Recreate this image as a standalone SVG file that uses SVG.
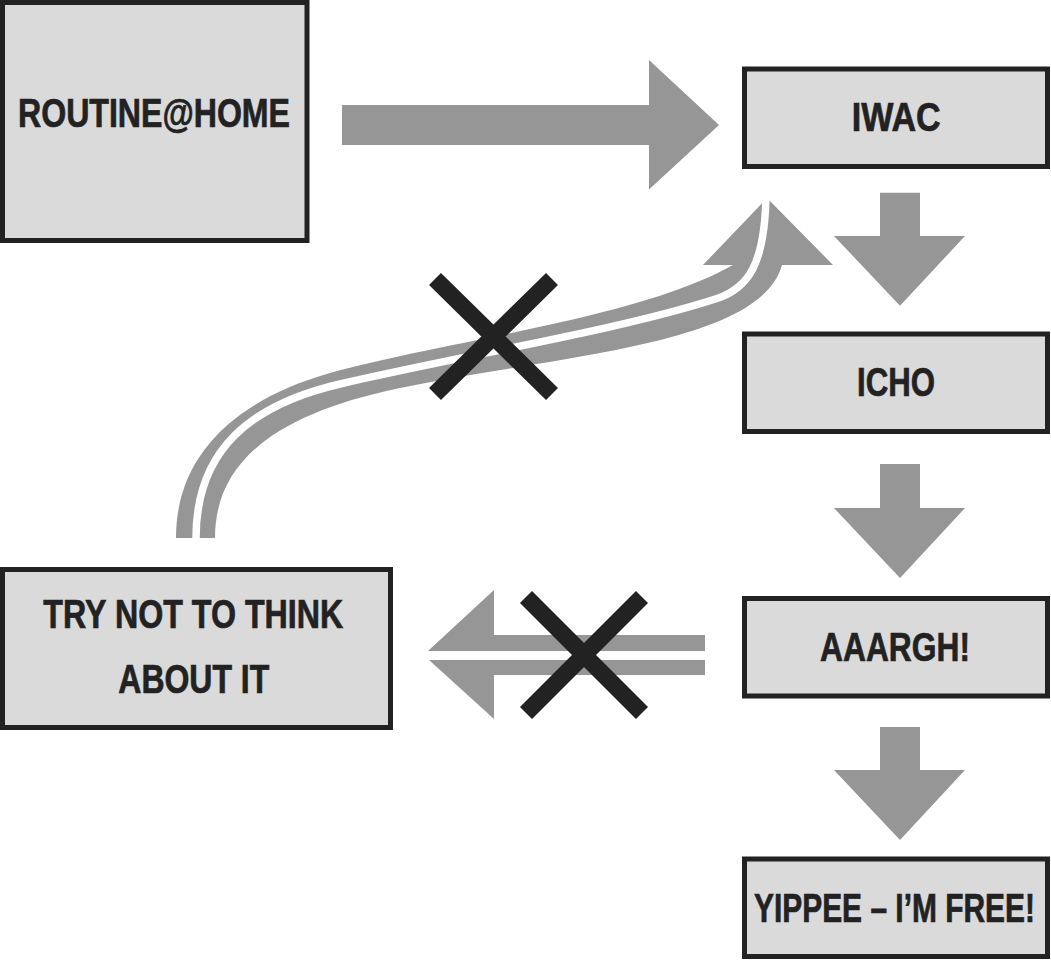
<svg xmlns="http://www.w3.org/2000/svg" width="1051" height="960" viewBox="0 0 1051 960">
<style>
.box{fill:#dadada;stroke:#222;stroke-width:5}
.lbl{font-family:"Liberation Sans",Arial,sans-serif;font-weight:bold;font-size:41px;fill:#222;stroke:#222;stroke-width:0.7}
.arr{fill:#969696;stroke:none}
.gap{fill:none;stroke:#fff;stroke-width:7.5}
.x{stroke:#222;stroke-width:17;fill:none}
</style>
<rect width="1051" height="960" fill="#fff"/>
<g id="connectors">
  <polygon class="arr" points="342,105 649,105 649,60 719,125 649,189.5 649,145 342,145"/>
  <polygon class="arr" points="880,192.7 920,192.7 920,236 965,236 900,305.7 834,236 880,236"/>
  <polygon class="arr" points="880,464 920,464 920,508 965,508 900,578 834,508 880,508"/>
  <polygon class="arr" points="880,727 920,727 920,770 965,770 900,840 834,770 880,770"/>
  <g id="back-arrow-left">
    <polygon class="arr" points="705,635 494,635 494,590 428,651 705,651"/>
    <polygon class="arr" points="705,660 429,660 494,719 494,675 705,675"/>
    <path class="x" d="M526,597 L642,713 M642,597 L526,713"/>
  </g>
  <g id="back-arrow-curved">
    <path class="arr" d="M176,538 C176,455 235,400 330,373 C450,340 640,318 733,265 L703,265 L767,198 L833,265 L782,265 C760,345 560,355 400,388 C270,415 215,465 215,538 Z"/>
    <path class="gap" d="M196,538 C196,450 250,405 340,384 C470,354 620,330 717,298.5 C748,288 765,265 766,194"/>
    <path class="x" d="M435,279 L552,394 M552,279 L435,394"/>
  </g>
</g>
<g id="node-routine">
  <rect class="box" x="2.5" y="2.5" width="304.5" height="238"/>
  <text class="lbl" x="18" y="126.5" textLength="272" lengthAdjust="spacingAndGlyphs">ROUTINE@HOME</text>
</g>
<g id="node-iwac">
  <rect class="box" x="744.5" y="69" width="303" height="97.5"/>
  <text class="lbl" x="851.7" y="131" textLength="89" lengthAdjust="spacingAndGlyphs">IWAC</text>
</g>
<g id="node-icho">
  <rect class="box" x="744.5" y="334" width="303" height="97.5"/>
  <text class="lbl" x="857" y="396" textLength="78" lengthAdjust="spacingAndGlyphs">ICHO</text>
</g>
<g id="node-aaargh">
  <rect class="box" x="744.5" y="598.5" width="303" height="97.5"/>
  <text class="lbl" x="820" y="661" textLength="150" lengthAdjust="spacingAndGlyphs">AAARGH!</text>
</g>
<g id="node-yippee">
  <rect class="box" x="744.5" y="859" width="303" height="97.5"/>
  <text class="lbl" transform="translate(754,921.7) scale(0.73,1)" x="0" y="0">YIPPEE – I’M FREE!</text>
</g>
<g id="node-try">
  <rect class="box" x="2.5" y="569.5" width="388" height="158"/>
  <text class="lbl" x="43.3" y="628.3" textLength="300" lengthAdjust="spacingAndGlyphs">TRY NOT TO THINK</text>
  <text class="lbl" x="118.3" y="693.3" textLength="151" lengthAdjust="spacingAndGlyphs">ABOUT IT</text>
</g>
</svg>
